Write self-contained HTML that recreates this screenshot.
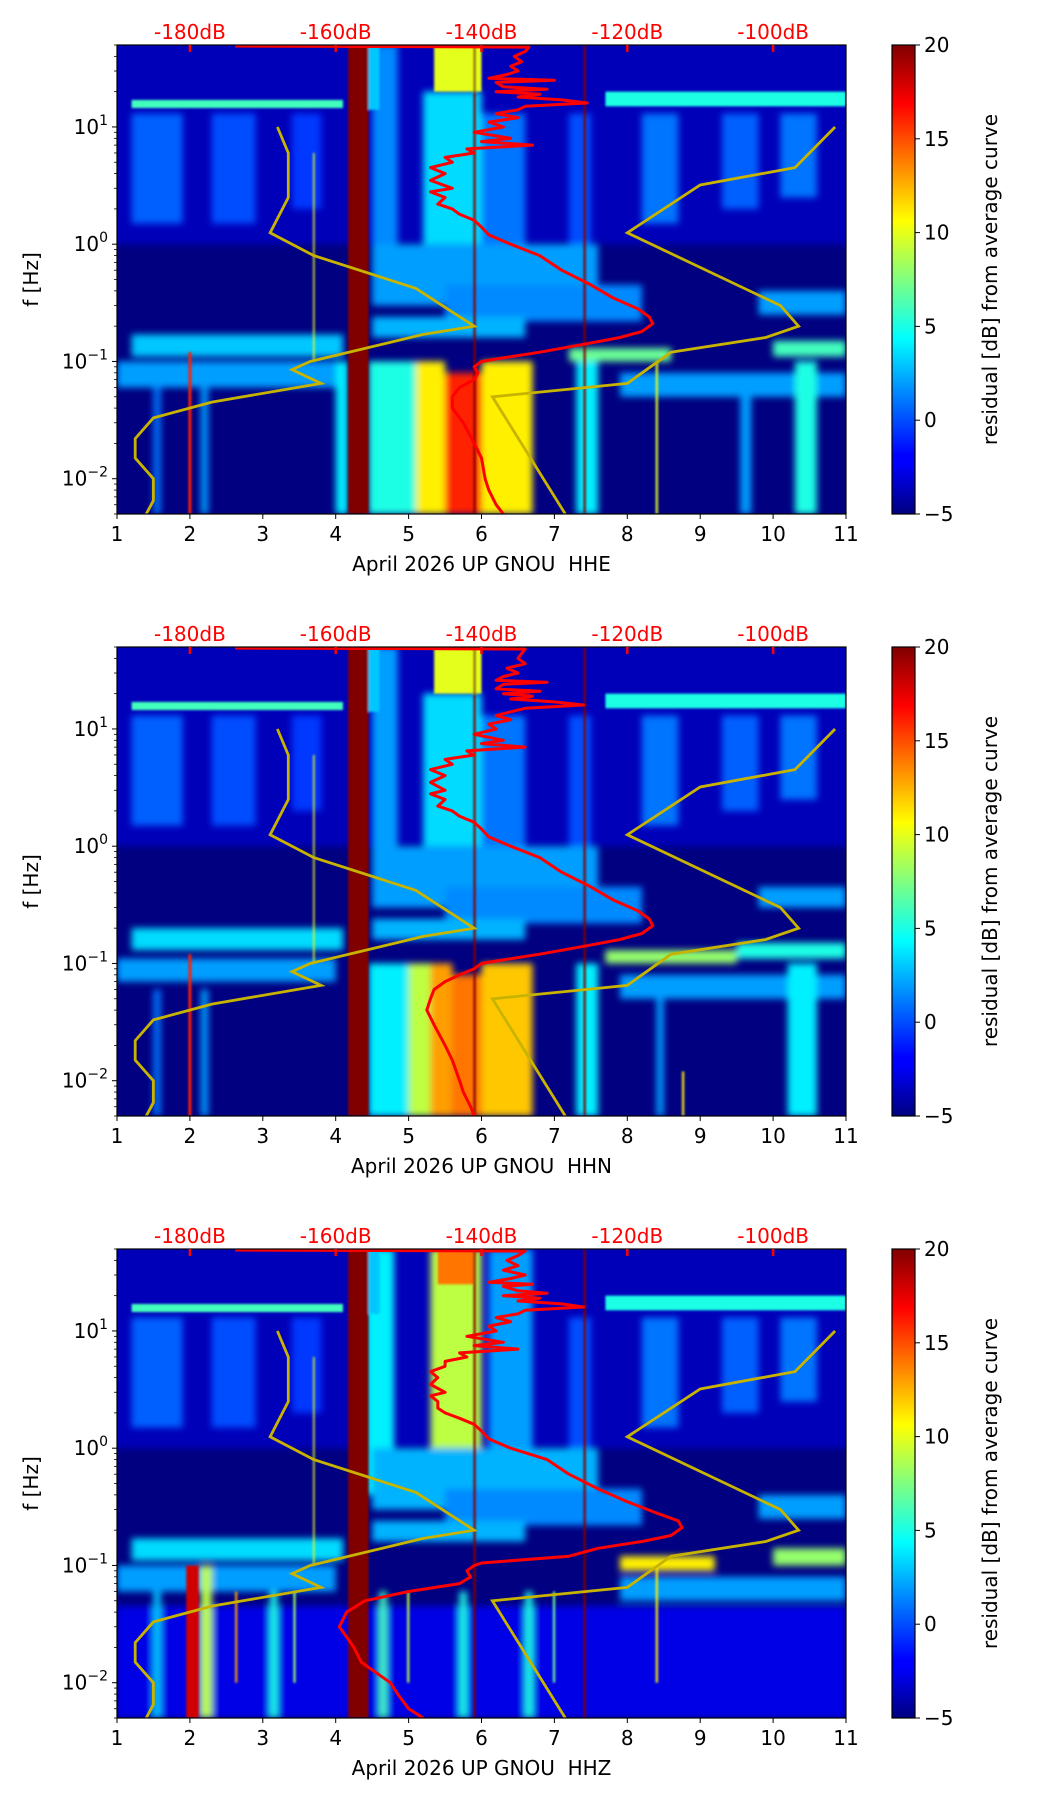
<!DOCTYPE html>
<html><head><meta charset="utf-8"><style>
html,body{margin:0;padding:0;background:#fff;}
svg{display:block;font-family:"DejaVu Sans","Liberation Sans",sans-serif;}
</style></head><body>
<svg id="fig" width="1052" height="1806" viewBox="0 0 1052 1806">
<defs>
<linearGradient id="jet" x1="0" y1="1" x2="0" y2="0">
<stop offset="0" stop-color="#000080"/><stop offset="0.11" stop-color="#0000ff"/><stop offset="0.125" stop-color="#0000ff"/><stop offset="0.375" stop-color="#00ffff"/><stop offset="0.5" stop-color="#80ff80"/><stop offset="0.625" stop-color="#ffff00"/><stop offset="0.875" stop-color="#ff0000"/><stop offset="1" stop-color="#800000"/>
</linearGradient>
<filter id="soft" x="-20%" y="-20%" width="140%" height="140%"><feGaussianBlur stdDeviation="3.5"/></filter>
<filter id="soft2" x="-20%" y="-20%" width="140%" height="140%"><feGaussianBlur stdDeviation="1"/></filter>
</defs>
</svg>
<script>
const channels = ["HHE","HHN","HHZ"];
const yTickExp = [1,0,-1,-2];
const xTicks = [1,2,3,4,5,6,7,8,9,10,11];
const dbTicks = [-180,-160,-140,-120,-100];
const cbTicks = [20,15,10,5,0,-5];
const redFreq = [49,48,44,40,36,33,30,28,26,25,24,22,21,20,19,18,17,16,15,14,13,12,11,10,9,8,7.5,7,6.5,6,5.5,5,4.5,4,3.5,3,2.8,2.5,2.2,2,1.8,1.6,1.4,1.2,1,0.8,0.6,0.45,0.35,0.28,0.24,0.21,0.18,0.16,0.14,0.12,0.105,0.1,0.09,0.08,0.07,0.06,0.05,0.04,0.03,0.02,0.015,0.01,0.008,0.006,0.005];
const redDb1 = [-173.8,-133.5,-134,-135.5,-134.5,-136,-135,-136.5,-139,-130,-138,-137,-131,-138,-132,-135,-129,-125.5,-134,-135,-138,-135,-139,-137,-141,-136,-140,-133,-142,-141,-145,-144,-147,-145,-147,-144,-147,-145,-146,-144,-143,-141,-140,-139,-136,-132,-129,-125,-122,-118.5,-117,-116.5,-118,-121,-126,-132,-138,-140,-141,-140.5,-141,-143,-144,-144,-142.5,-141,-140,-139.5,-139,-138,-137];
const redDb2 = [-173.8,-134,-134.5,-135,-134,-136.5,-135,-137,-138,-131,-137,-138,-132,-137,-133,-136,-130,-126,-134,-136,-138,-136,-139,-138,-141,-137,-140,-134,-142,-141,-145,-144,-147,-145,-147,-145,-147,-145,-146,-144,-143,-141,-140,-139,-136,-132,-129,-125,-122,-118.5,-117,-116.5,-118,-121,-126,-132,-138,-140,-141,-143,-145,-146.5,-147,-147.5,-146.5,-145,-144,-143,-142.5,-141.5,-141];
const redDb3 = [-173.8,-134,-135,-136.5,-135,-137,-134,-136,-139,-133,-137,-135,-131,-137,-132,-135,-129,-126,-134,-135,-138,-136,-139,-138,-142,-137,-141,-135,-143,-142,-145,-145,-147,-146,-147,-145,-147,-146,-146,-145,-143,-141,-140,-139,-136,-131,-128,-124,-120,-116,-113,-112.5,-114,-118,-124,-128,-140,-141,-142,-141.5,-143,-150,-156,-158.5,-159.5,-157.5,-156.5,-152.5,-151.5,-150,-148];
const lowFreq = [10,6,2.5,1.25,0.8,0.42,0.2,0.17,0.1,0.085,0.065,0.045,0.033,0.022,0.015,0.01,0.0065,0.005];
const lowDb = [-168,-166.5,-166.5,-169,-163,-149,-141,-148,-163.5,-166,-162,-177,-185,-187.5,-187.5,-185,-185,-186];
const highFreq = [10,4.5,3.2,1.25,0.3,0.2,0.16,0.12,0.065,0.05,0.005];
const highDb = [-91.5,-97,-110,-120,-99,-96.5,-101,-114,-120,-138.5,-128.5];
// heatmap features: [dayStart, dayEnd, fLow, fHigh, residual dB]
const p1Soft = [[1.2,1.9,1.5,13,0.5],[2.3,2.9,1.5,13,0],[3.4,3.8,2,13,-0.5],[4.5,4.85,0.4,50,1.5],[5.2,6.0,1,20,3.5],[6.0,6.6,0.8,13,1],[7.2,7.5,1,13,0],[8.2,8.7,1.5,13,1],[9.3,9.8,2,13,0.5],[10.1,10.6,2.5,13,1],[4.5,7.6,0.3,1,2],[5.5,8.2,0.22,0.45,1.5],[1.2,4.1,0.11,0.17,3],[4.5,6.6,0.16,0.24,2.5],[9.8,11,0.25,0.4,2],[1,4.0,0.06,0.1,2],[7.2,8.6,0.1,0.13,7],[10,11,0.11,0.15,6],[7.9,11,0.05,0.08,2],[4.45,5.1,0.005,0.1,5],[5.1,5.5,0.005,0.1,11],[5.5,6.0,0.005,0.08,16],[6.0,6.7,0.005,0.1,11],[4.0,4.17,0.005,0.1,4],[7.3,7.6,0.005,0.1,4],[10.3,10.6,0.005,0.1,5],[9.55,9.7,0.005,0.06,2],[1.5,1.6,0.005,0.06,1],[2.15,2.25,0.005,0.06,2]];
const p1Sharp = [[1.2,4.1,14.5,17,6],[7.7,11,15,20,5],[5.35,6.0,20,50,10],[4.45,4.6,14,50,3],[4.17,4.45,0.005,50,20],[1.98,2.02,0.005,0.12,16],[5.89,5.92,0.005,50,20],[7.40,7.43,0.005,50,20],[8.39,8.42,0.005,0.1,10],[3.69,3.71,0.1,6,10]];
const p2Soft = [[1.2,1.9,1.5,13,0.5],[2.3,2.9,1.5,13,0],[3.4,3.8,2,13,-0.5],[4.5,4.85,0.4,50,2],[5.2,6.0,1,20,3.5],[6.0,6.6,0.8,13,1],[7.2,7.5,1,13,0],[8.2,8.7,1.5,13,1],[9.3,9.8,2,13,0.5],[10.1,10.6,2.5,13,1],[4.5,7.6,0.3,1,2],[5.5,8.2,0.22,0.45,1.5],[1.2,4.1,0.13,0.2,3.5],[4.5,6.6,0.16,0.24,2.5],[9.8,11,0.3,0.45,2],[1,4.0,0.07,0.11,2],[7.7,9.5,0.1,0.13,8],[9.5,11,0.11,0.15,5],[7.9,11,0.05,0.08,2],[4.45,5.0,0.005,0.1,4],[5.0,5.3,0.005,0.1,9],[5.3,5.6,0.005,0.1,13],[5.6,6.0,0.005,0.08,14],[6.0,6.7,0.005,0.1,12],[7.3,7.6,0.005,0.1,4],[10.2,10.6,0.005,0.1,4],[8.4,8.5,0.005,0.06,2],[1.5,1.6,0.005,0.06,1],[2.15,2.25,0.005,0.06,2]];
const p2Sharp = [[1.2,4.1,14.5,17,6],[7.7,11,15,20,5],[5.35,6.0,20,50,10],[4.45,4.6,14,50,3],[4.17,4.45,0.005,50,20],[1.98,2.02,0.005,0.12,16],[5.89,5.92,0.005,50,20],[7.40,7.43,0.005,50,20],[8.75,8.78,0.005,0.012,11],[3.69,3.71,0.1,6,10]];
const p3Soft = [[1.2,1.9,1.5,13,0.5],[2.3,2.9,1.5,13,0],[3.4,3.8,2,13,-0.5],[4.4,4.8,0.4,50,4],[6.1,6.7,0.5,50,2],[5.3,6.0,1,50,9],[7.2,7.5,1,13,0],[8.2,8.7,1.5,13,1],[9.3,9.8,2,13,0.5],[10.1,10.6,2.5,13,1],[4.5,7.6,0.3,1,2.5],[5.5,8.2,0.22,0.45,1.5],[1.2,4.1,0.11,0.17,3.5],[4.5,6.6,0.16,0.24,2.5],[9.8,11,0.25,0.4,2],[1,4.0,0.06,0.1,2],[7.9,9.2,0.09,0.12,11],[10,11,0.1,0.14,8],[7.9,11,0.05,0.08,2],[1,11,0.005,0.045,-2.5],[2.15,2.3,0.005,0.1,9],[4.6,4.7,0.005,0.06,6],[5.7,5.8,0.005,0.06,5],[6.6,6.7,0.005,0.06,5],[3.1,3.2,0.005,0.06,5],[1.5,1.6,0.005,0.06,3]];
const p3Sharp = [[1.2,4.1,14.5,17,6],[7.7,11,15,20,5],[5.4,5.9,25,50,14],[4.45,4.6,14,50,3],[4.17,4.45,0.005,50,20],[1.95,2.12,0.005,0.1,18],[5.89,5.92,0.005,50,20],[7.40,7.43,0.005,50,20],[8.39,8.42,0.01,0.1,11],[3.69,3.71,0.1,6,10],[2.62,2.65,0.01,0.06,13],[3.42,3.45,0.01,0.06,8],[4.98,5.01,0.01,0.06,9],[6.98,7.01,0.01,0.06,7]];
const panelSoft = [p1Soft,p2Soft,p3Soft];
const panelSharp = [p1Sharp,p2Sharp,p3Sharp];
const panelRed = [redDb1,redDb2,redDb3];

const NS="http://www.w3.org/2000/svg";
const svg=document.getElementById('fig');
const L=117,R=846,H=469,PANEL_TOPS=[45,647,1249];
const CBX=892,CBW=23,FS=20;
function jet(v){const t=Math.max(0,Math.min(1,(v+5)/25));const c=x=>Math.round(255*Math.max(0,Math.min(1,1.5-Math.abs(4*t-x))));return `rgb(${c(3)},${c(2)},${c(1)})`;}
function mk(tag,attrs,parent){const e=document.createElementNS(NS,tag);for(const k in attrs)e.setAttribute(k,attrs[k]);(parent||svg).appendChild(e);return e;}
function xDay(d){return L+(d-1)*(R-L)/10;}
function xDb(db){return xDay(2+(db+180)/10);}
function yF(f,top){return top+(Math.log10(50)-Math.log10(f))*H/4;}
function txt(s,attrs,parent){const e=mk('text',attrs,parent);e.textContent=s;return e;}

channels.forEach((ch,pi)=>{
  const top=PANEL_TOPS[pi];
  const g=mk('g',{});
  
  
  const cp=mk('clipPath',{id:'cp'+pi},g);mk('rect',{x:L,y:top,width:R-L,height:H},cp);
  const hm=mk('g',{'clip-path':`url(#cp${pi})`},g);
  
  
  mk('rect',{x:L,y:top,width:R-L,height:H,fill:jet(-5)},hm);
  const base=mk('rect',{x:L-10,y:yF(60,top),width:R-L+20,height:yF(1,top)-yF(60,top),fill:jet(-3.6),filter:'url(#soft)'},hm);
  
  
  const sg=mk('g',{filter:'url(#soft)'},hm);
  panelSoft[pi].forEach(c=>{const r=mk('rect',{x:xDay(c[0]),y:yF(c[3],top),width:xDay(c[1])-xDay(c[0]),height:yF(c[2],top)-yF(c[3],top),fill:jet(c[4])},sg);
    
    });
  const shg=mk('g',{filter:'url(#soft2)'},hm);
  panelSharp[pi].forEach(c=>{const r=mk('rect',{x:xDay(c[0]),y:yF(c[3],top),width:Math.max(1.5,xDay(c[1])-xDay(c[0])),height:yF(c[2],top)-yF(c[3],top),fill:jet(c[4])},shg);
    
    });
  const pts=(fs,dbs)=>fs.map((f,i)=>xDb(dbs[i]).toFixed(1)+','+yF(f,top).toFixed(1)).join(' ');
  const lo=mk('polyline',{points:pts(lowFreq,lowDb),fill:'none',stroke:'#c8b400','stroke-width':2.8},hm);
  
  
  const hi=mk('polyline',{points:pts(highFreq,highDb),fill:'none',stroke:'#c8b400','stroke-width':2.8},hm);
  
  
  const rd=mk('polyline',{points:pts(redFreq,panelRed[pi]),fill:'none',stroke:'#ff0000','stroke-width':3,'stroke-linejoin':'round'},hm);
  
  
  const fr=mk('rect',{x:L,y:top,width:R-L,height:H,fill:'none',stroke:'#000','stroke-width':1.2},g);
  
  
  xTicks.forEach(d=>{const x=xDay(d);mk('line',{x1:x,x2:x,y1:top+H,y2:top+H+5,stroke:'#000','stroke-width':1},g);
    const t=txt(String(d),{x:x,y:top+H+27,'font-size':FS,'text-anchor':'middle',fill:'#000'},g);
    
    });
  const xl=txt('April 2026 UP GNOU\u00a0\u00a0'+ch,{x:(L+R)/2,y:top+H+57,'font-size':FS,'text-anchor':'middle',fill:'#000'},g);
  
  
  yTickExp.forEach(e=>{const y=yF(Math.pow(10,e),top);mk('line',{x1:L-5,x2:L,y1:y,y2:y,stroke:'#000','stroke-width':1},g);
    const t=txt('',{x:L-9,y:y+7,'font-size':FS,'text-anchor':'end',fill:'#000'},g);
    
    
    const a=mk('tspan',{},t);a.textContent='10';const b=mk('tspan',{dy:-9,'font-size':14},t);b.textContent=(e<0?'\u2212':'')+Math.abs(e);});
  for(let e=-3;e<=1;e++)for(let m=2;m<=9;m++){const f=m*Math.pow(10,e);if(f<0.005||f>50)continue;const y=yF(f,top);mk('line',{x1:L-3,x2:L,y1:y,y2:y,stroke:'#000','stroke-width':0.8},g);}
  const yl=txt('f [Hz]',{x:0,y:0,'font-size':FS,'text-anchor':'middle',fill:'#000',transform:`translate(38,${top+H/2}) rotate(-90)`},g);
  
  
  dbTicks.forEach(db=>{const x=xDb(db);mk('line',{x1:x,x2:x,y1:top,y2:top+7,stroke:'#ff0000','stroke-width':2.5},g);
    const t=txt(db+'dB',{x:x,y:top-6,'font-size':FS,'text-anchor':'middle',fill:'#ff0000'},g);
    
    });
  const cb=mk('rect',{x:CBX,y:top,width:CBW,height:H,fill:'url(#jet)',stroke:'#000','stroke-width':1.2},g);
  
  
  cbTicks.forEach(v=>{const y=top+(20-v)/25*H;mk('line',{x1:CBX+CBW,x2:CBX+CBW+5,y1:y,y2:y,stroke:'#000','stroke-width':1},g);
    const t=txt(v<0?'\u2212'+Math.abs(v):String(v),{x:CBX+CBW+9,y:y+7,'font-size':FS,fill:'#000'},g);
    
    });
  const cl=txt('residual [dB] from average curve',{x:0,y:0,'font-size':FS,'text-anchor':'middle',fill:'#000',transform:`translate(997,${top+H/2}) rotate(-90)`},g);
  
  
});
</script>
</body></html>
